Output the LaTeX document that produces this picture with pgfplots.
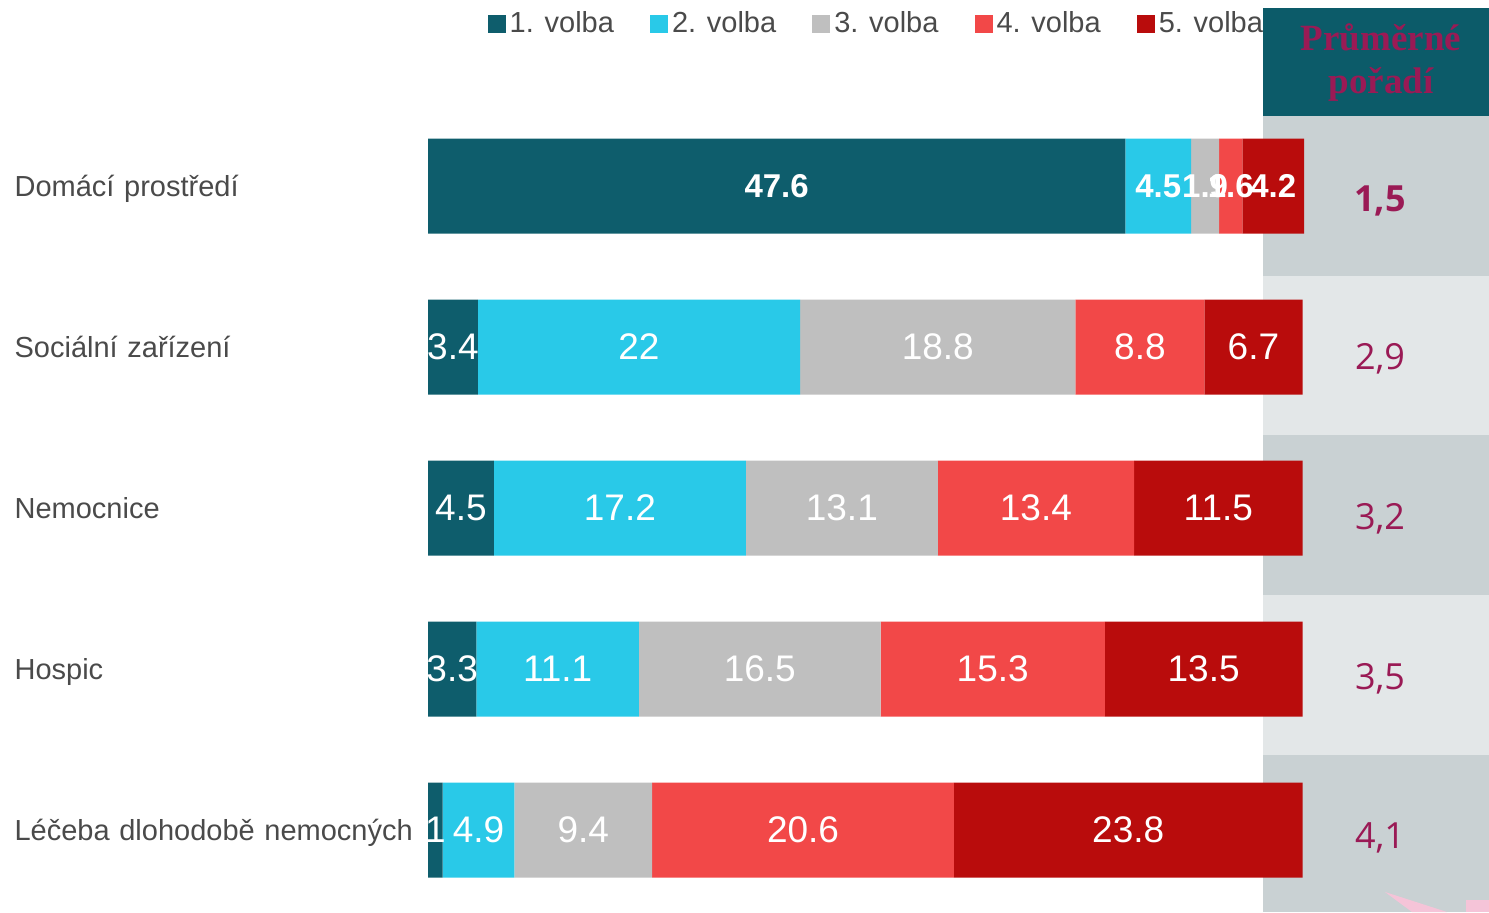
\documentclass[border=0pt]{standalone}
\usepackage{pgfplots}
\pgfplotsset{compat=1.18}
\usepackage{pgfplotstable}
\usepackage{fontspec}
\setmainfont{Liberation Sans}
\newfontfamily\tnr{Liberation Serif}
\newfontfamily\osans{Open Sans}
\definecolor{c1}{HTML}{0E5D6C}
\definecolor{c2}{HTML}{29C9E8}
\definecolor{c3}{HTML}{BFBFBF}
\definecolor{c4}{HTML}{F24848}
\definecolor{c5}{HTML}{B90C0C}
\definecolor{hdr}{HTML}{0C5B69}
\definecolor{rowd}{HTML}{C9D1D3}
\definecolor{rowl}{HTML}{E3E7E8}
\definecolor{crim}{HTML}{9A1A55}
\definecolor{lbl}{HTML}{4A4A4A}
\definecolor{pinkd}{HTML}{F5C4D8}

\pgfplotstableread{
y v b
4 47.6 1
3 3.4 0
2 4.5 0
1 3.3 0
0 1 0
}\tA
\pgfplotstableread{
y v b
4 4.5 1
3 22 0
2 17.2 0
1 11.1 0
0 4.9 0
}\tB
\pgfplotstableread{
y v b
4 1.9 1
3 18.8 0
2 13.1 0
1 16.5 0
0 9.4 0
}\tC
\pgfplotstableread{
y v b
4 1.6 1
3 8.8 0
2 13.4 0
1 15.3 0
0 20.6 0
}\tD
\pgfplotstableread{
y v b
4 4.2 1
3 6.7 0
2 11.5 0
1 13.5 0
0 23.8 0
}\tE

\newcommand\labfont[1]{\ifdim#1pt>0.5pt \fontsize{16.5}{18}\selectfont\bfseries\else\fontsize{18.5}{20}\selectfont\fi}

\begin{document}
\begin{tikzpicture}[x=1pt,y=1pt]
\useasboundingbox (0,0) rectangle (744.5,456);
% right panel
\fill[hdr] (631.5,398) rectangle (744.5,452);
\fill[rowd] (631.5,318) rectangle (744.5,398);
\fill[rowl] (631.5,238.5) rectangle (744.5,318);
\fill[rowd] (631.5,158.5) rectangle (744.5,238.5);
\fill[rowl] (631.5,78.5) rectangle (744.5,158.5);
\fill[rowd] (631.5,0) rectangle (744.5,78.5);
\fill[pinkd] (692.5,10) -- (723.5,0) -- (706,0) -- cycle;
\fill[pinkd] (733,0) rectangle (744.5,6);
\node[text=crim, font=\tnr\bfseries\fontsize{18.5}{21.5}\selectfont, align=center] at (690.5,424.5) {Průměrné\\pořadí};
\node[text=crim, font=\osans\bfseries\fontsize{18}{20}\selectfont] at (690,355.5) {1,5};
\node[text=crim, font=\osans\fontsize{18}{20}\selectfont] at (690,276.5) {2,9};
\node[text=crim, font=\osans\fontsize{18}{20}\selectfont] at (690,196.5) {3,2};
\node[text=crim, font=\osans\fontsize{18}{20}\selectfont] at (690,116.5) {3,5};
\node[text=crim, font=\osans\fontsize{18}{20}\selectfont] at (690,37) {4,1};
\begin{axis}[
  at={(214pt,0.75pt)}, anchor=south west,
  scale only axis, width=438pt, height=402.5pt,
  xbar stacked, bar width=47.5pt,
  xmin=0, xmax=59.8, ymin=-0.5, ymax=4.5,
  axis line style={draw=none}, major tick length=0pt,
  xtick=\empty,
  ytick={0,1,2,3,4},
  yticklabels={Léčeba dlohodobě nemocných, Hospic, Nemocnice, Sociální zařízení, Domácí prostředí},
  yticklabel style={text width=206.5pt, align=left, anchor=east, inner sep=0pt,
    text height=11pt, text depth=3pt,
    font=\fontsize{14.5}{17}\selectfont, text=lbl, yshift=-1.2pt},
  nodes near coords, point meta=explicit symbolic,
  visualization depends on={\thisrow{b} \as \isb},
  every node near coord/.append style={anchor=center, text=white,
    font=\labfont{\isb}, inner sep=0pt},
  legend columns=5,
  legend style={draw=none, fill=none, at={(0.513,1.1015)}, anchor=center,
    font=\fontsize{14.5}{17}\selectfont, text=lbl,
    /tikz/every even column/.append style={column sep=16pt}},
  legend image code/.code={\fill[#1] (-1.5pt,-4.5pt) rectangle (7.5pt,4.5pt);},
]
\addplot[fill=c1, draw=none] table[x=v, y=y, meta=v] {\tA};
\addplot[fill=c2, draw=none] table[x=v, y=y, meta=v] {\tB};
\addplot[fill=c3, draw=none] table[x=v, y=y, meta=v] {\tC};
\addplot[fill=c4, draw=none] table[x=v, y=y, meta=v] {\tD};
\addplot[fill=c5, draw=none] table[x=v, y=y, meta=v] {\tE};
\legend{1. volba, 2. volba, 3. volba, 4. volba, 5. volba}
\end{axis}
\end{tikzpicture}
\end{document}
